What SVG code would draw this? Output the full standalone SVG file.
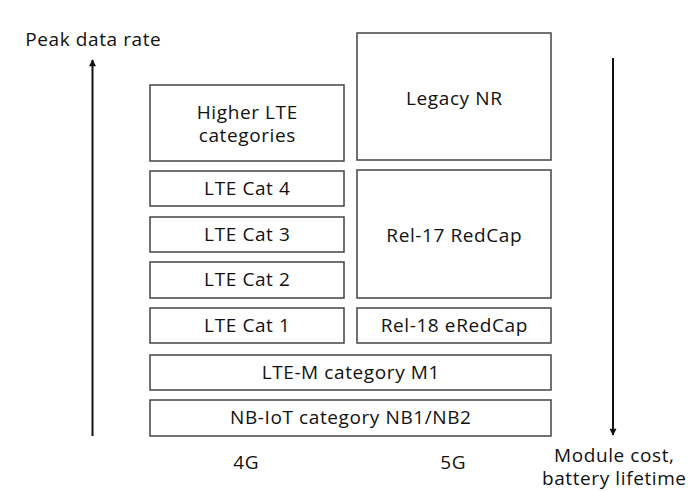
<svg xmlns="http://www.w3.org/2000/svg" width="690" height="491" viewBox="0 0 690 491">
<defs>
<style>
.box{fill:#fff;stroke:#444;stroke-width:1.5}
.t{font-family:"Open Sans","Noto Sans",sans-serif;font-size:19px;letter-spacing:0.6px;fill:#111;text-anchor:middle}
.ax{stroke:#111;stroke-width:2;fill:none}
</style>
<marker id="ah" viewBox="0 0 10 10" refX="9" refY="5" markerWidth="9" markerHeight="7" orient="auto" markerUnits="userSpaceOnUse"><path d="M0,0 L10,5 L0,10 z" fill="#111"/></marker>
</defs>
<rect width="690" height="491" fill="#fff"/>
<g id="connectors">
<line class="ax" x1="92.5" y1="436" x2="92.5" y2="60" marker-end="url(#ah)"/>
<line class="ax" x1="613" y1="58" x2="613" y2="435" marker-end="url(#ah)"/>
</g>
<g id="labels">
<text class="t" x="93.3" y="46">Peak data rate</text>
<text class="t" x="246.3" y="469">4G</text>
<text class="t" x="453.3" y="469">5G</text>
<text class="t" y="462"><tspan x="614.3">Module cost,</tspan><tspan x="614.3" dy="23">battery lifetime</tspan></text>
</g>
<g id="higher-lte"><rect class="box" x="150" y="85" width="194" height="76"/><text class="t" y="119"><tspan x="247.3">Higher LTE</tspan><tspan x="247.3" dy="23">categories</tspan></text></g>
<g id="lte-cat4"><rect class="box" x="150" y="171" width="194" height="35"/><text class="t" x="247.3" y="195">LTE Cat 4</text></g>
<g id="lte-cat3"><rect class="box" x="150" y="217" width="194" height="35"/><text class="t" x="247.3" y="241">LTE Cat 3</text></g>
<g id="lte-cat2"><rect class="box" x="150" y="262" width="194" height="36"/><text class="t" x="247.3" y="286">LTE Cat 2</text></g>
<g id="lte-cat1"><rect class="box" x="150" y="308" width="194" height="35"/><text class="t" x="247.3" y="332">LTE Cat 1</text></g>
<g id="legacy-nr"><rect class="box" x="357" y="33" width="194" height="127"/><text class="t" x="454.3" y="105">Legacy NR</text></g>
<g id="rel17"><rect class="box" x="357" y="170" width="194" height="128"/><text class="t" x="454.3" y="242">Rel-17 RedCap</text></g>
<g id="rel18"><rect class="box" x="357" y="308" width="194" height="35"/><text class="t" x="454.3" y="332">Rel-18 eRedCap</text></g>
<g id="lte-m"><rect class="box" x="150" y="355" width="401" height="35"/><text class="t" x="350.8" y="379">LTE-M category M1</text></g>
<g id="nb-iot"><rect class="box" x="150" y="400" width="401" height="36"/><text class="t" x="350.8" y="424">NB-IoT category NB1/NB2</text></g>
</svg>
